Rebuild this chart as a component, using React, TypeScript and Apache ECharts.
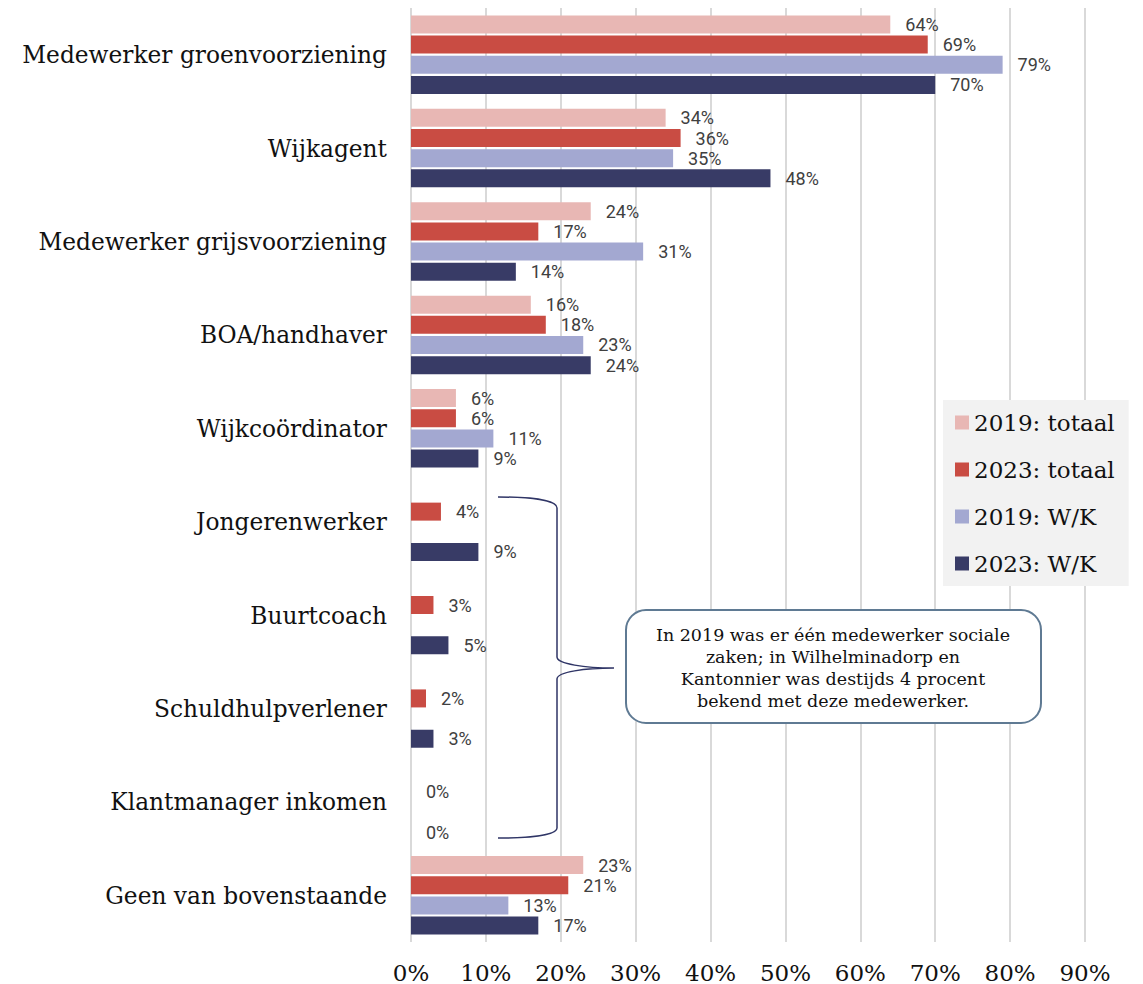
import React, { useEffect, useRef } from "react";
import * as echarts from "echarts";

const categories = [
  "Medewerker groenvoorziening",
  "Wijkagent",
  "Medewerker grijsvoorziening",
  "BOA/handhaver",
  "Wijkcoördinator",
  "Jongerenwerker",
  "Buurtcoach",
  "Schuldhulpverlener",
  "Klantmanager inkomen",
  "Geen van bovenstaande",
];

const seriesNames = ["2019: totaal", "2023: totaal", "2019: W/K", "2023: W/K"];
const totaal2019 = [64, 34, 24, 16, 6, null, null, null, null, 23];
const totaal2023 = [69, 36, 17, 18, 6, 4, 3, 2, 0, 21];
const wk2019 = [79, 35, 31, 23, 11, null, null, null, null, 13];
const wk2023 = [70, 48, 14, 24, 9, 9, 5, 3, 0, 17];
const colors = ["#e8b7b4", "#c94c43", "#a3a8d1", "#383b66"];
const xTicks = { min: 0, max: 90, interval: 10 };

const calloutLines = [
  "In 2019 was er één medewerker sociale",
  "zaken; in Wilhelminadorp en",
  "Kantonnier was destijds 4 procent",
  "bekend met deze medewerker.",
];

const SERIF = "'DejaVu Serif', 'Liberation Serif', serif";
const SANS = "Roboto, 'Noto Sans', sans-serif";

const braceD =
  "M498 497 C530 497 557 500 557 508 L557 657 C557 664 585 668 614 668 C585 668 557 672 557 679 L557 828 C557 835 530 838 498 838";
let registered = false;

export default function App() {
  const ref = useRef<HTMLDivElement>(null);
  useEffect(() => {
    if (!ref.current) return;
    if (!registered) {
      echarts.graphic.registerShape("brace", echarts.graphic.extendPath(braceD, {}) as any);
      registered = true;
    }
    const chart = echarts.init(ref.current, null, { renderer: "svg" });
    const data = [totaal2019, totaal2023, wk2019, wk2023];
    chart.setOption({
      animation: false,
      backgroundColor: "#ffffff",
      grid: { left: 411, right: 58, top: 8, bottom: 42, containLabel: false },
      xAxis: {
        type: "value",
        min: xTicks.min,
        max: xTicks.max,
        interval: xTicks.interval,
        axisLine: { show: false },
        axisTick: { show: false },
        splitLine: { show: true, lineStyle: { color: "#d9d9d9", width: 2 } },
        axisLabel: {
          formatter: "{value}%",
          fontFamily: SERIF,
          fontSize: 23,
          color: "#111",
          margin: 19,
        },
      },
      yAxis: {
        type: "category",
        inverse: true,
        data: categories,
        axisLine: { show: false },
        axisTick: { show: false },
        axisLabel: {
          fontFamily: SERIF,
          fontSize: 23.3,
          color: "#111",
          margin: 24,
        },
      },
      legend: {
        data: seriesNames,
        orient: "vertical",
        left: 943,
        top: 400,
        backgroundColor: "#f2f2f2",
        padding: [10, 14, 10, 12],
        itemWidth: 14,
        itemHeight: 14,
        itemGap: 22,
        icon: "rect",
        textStyle: { fontFamily: SERIF, fontSize: 23, color: "#111", lineHeight: 25 },
      },
      series: seriesNames.map((name, i) => ({
        name,
        type: "bar",
        data: data[i],
        barWidth: 18,
        barGap: "12%",
        itemStyle: { color: colors[i] },
        label: {
          show: true,
          position: "right",
          distance: 15,
          formatter: "{c}%",
          fontFamily: SANS,
          fontSize: 18,
          lineHeight: 16,
          color: "#404040",
        },
      })),
      graphic: [
        {
          type: "brace",
          x: 0,
          y: 0,
          z: 100,
          style: { stroke: "#2f3566", lineWidth: 1.5, fill: "none" },
          silent: true,
        },
        {
          type: "rect",
          z: 100,
          shape: { x: 626, y: 610, width: 415, height: 113, r: 20 },
          style: { fill: "#ffffff", stroke: "#5f7a93", lineWidth: 2 },
          silent: true,
        },
        {
          type: "text",
          z: 101,
          x: 833,
          y: 668,
          style: {
            text: calloutLines.join("\n"),
            fontFamily: SERIF,
            fontSize: 17.5,
            lineHeight: 22.3,
            fill: "#111",
            align: "center",
            verticalAlign: "middle",
          },
          silent: true,
        },
      ],
    });
    return () => chart.dispose();
  }, []);
  return (
    <div
      ref={ref}
      style={{ position: "absolute", left: 0, top: 0, width: 1143, height: 984 }}
    />
  );
}
